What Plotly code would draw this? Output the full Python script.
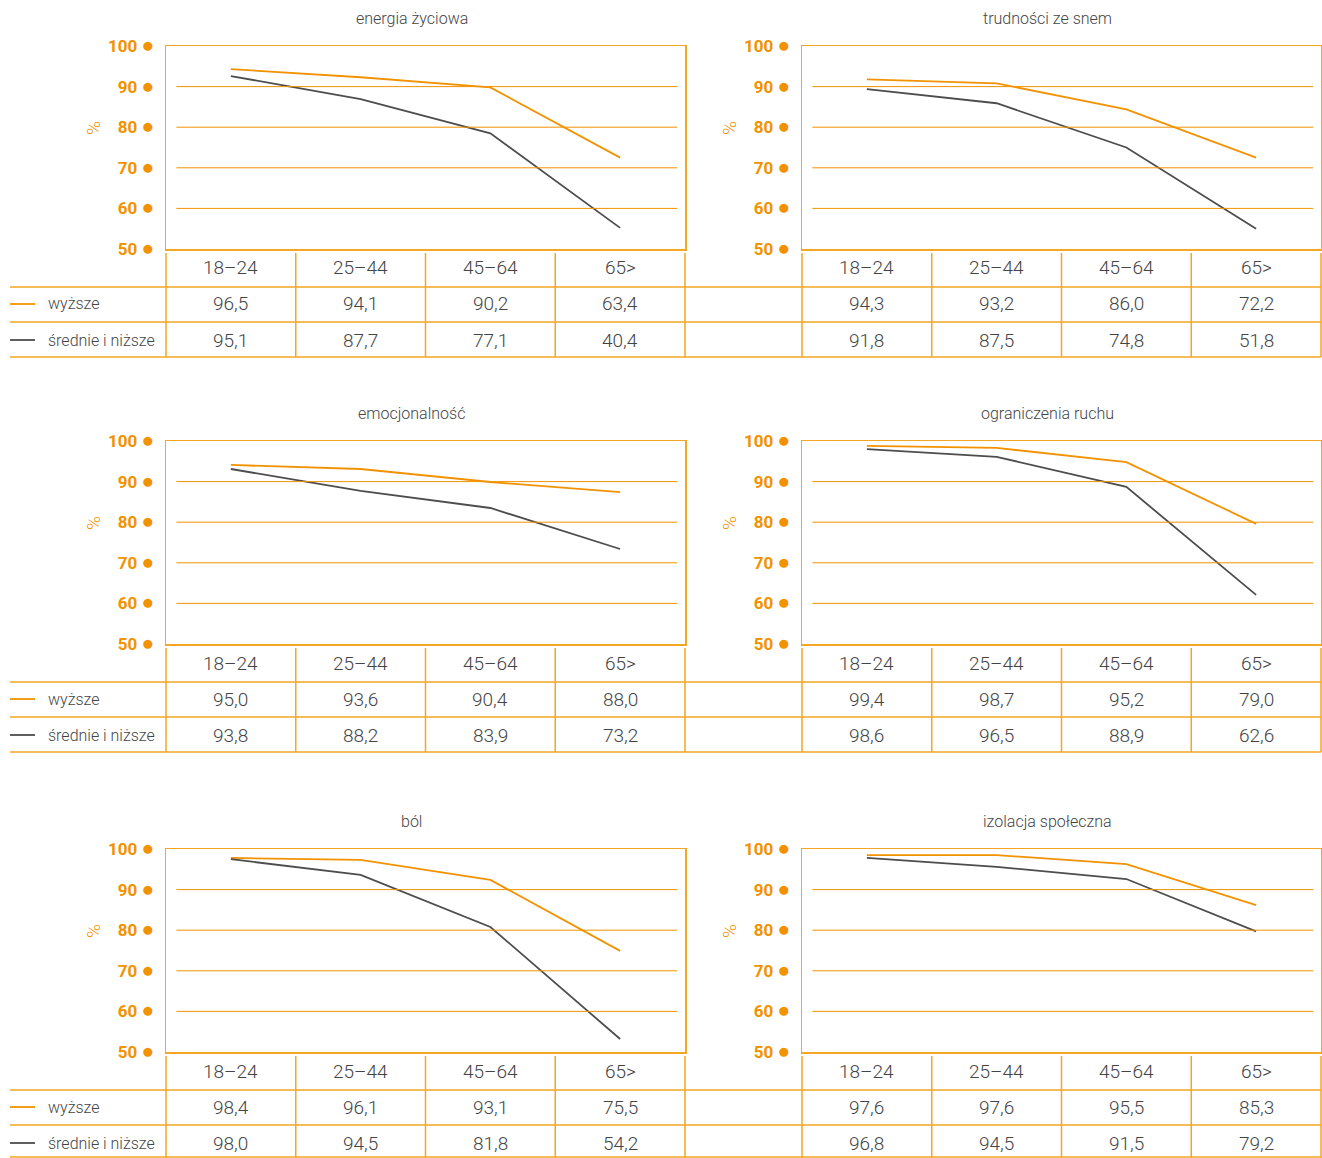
import plotly.graph_objects as go

# ---------------- data ----------------
categories = ["18–24", "25–44", "45–64", "65>"]
titles = ["energia życiowa", "trudności ze snem", "emocjonalność",
          "ograniczenia ruchu", "ból", "izolacja społeczna"]
series_names = ["wyższe", "średnie i niższe"]

# values of the plotted lines
line_wyzsze = [
    [94.3, 92.3, 89.8, 72.5],
    [91.8, 90.8, 84.4, 72.5],
    [94.1, 93.1, 89.9, 87.4],
    [98.8, 98.3, 94.8, 79.6],
    [97.8, 97.3, 92.4, 74.9],
    [98.5, 98.5, 96.3, 86.2],
]
line_srednie = [
    [92.6, 86.9, 78.5, 55.2],
    [89.4, 85.9, 75.0, 55.0],
    [93.1, 87.7, 83.5, 73.4],
    [98.0, 96.1, 88.7, 62.1],
    [97.5, 93.6, 80.8, 53.2],
    [97.8, 95.6, 92.6, 79.7],
]
# values printed in the tables
table_wyzsze = [
    [96.5, 94.1, 90.2, 63.4],
    [94.3, 93.2, 86.0, 72.2],
    [95.0, 93.6, 90.4, 88.0],
    [99.4, 98.7, 95.2, 79.0],
    [98.4, 96.1, 93.1, 75.5],
    [97.6, 97.6, 95.5, 85.3],
]
table_srednie = [
    [95.1, 87.7, 77.1, 40.4],
    [91.8, 87.5, 74.8, 51.8],
    [93.8, 88.2, 83.9, 73.2],
    [98.6, 96.5, 88.9, 62.6],
    [98.0, 94.5, 81.8, 54.2],
    [96.8, 94.5, 91.5, 79.2],
]
y_ticks = [50, 60, 70, 80, 90, 100]
grid_values = [60, 70, 80, 90]

# ---------------- styling ----------------
W, H = 1322, 1158
ORANGE = "#F39200"
BOX = "#F5A623"
DARK = "#4D4D4D"
TEXT = "#444444"
FONT = "Roboto, sans-serif"

box_x = [(166, 685), (802, 1321)]
block_off = [0, 395, 803]
plot_top, plot_bot = 46, 249
head_top = 253
row_lines = [287, 322, 357]
row_text = [268, 304, 340]
table_left = 10


def fx(px):
    return px / W


def fy(py):
    return 1 - py / H


fig = go.Figure()
shapes = []
annotations = []
xs = list(range(len(categories)))

for i in range(6):
    col, row = i % 2, i // 2
    off = block_off[row]
    x0, x1 = box_x[col]
    n = "" if i == 0 else str(i + 1)
    xa, ya = "xaxis" + n, "yaxis" + n

    fig.add_trace(go.Scatter(x=xs, y=line_wyzsze[i], mode="lines",
                             line=dict(color=ORANGE, width=1.8),
                             xaxis="x" + n, yaxis="y" + n, showlegend=False,
                             name=series_names[0]))
    fig.add_trace(go.Scatter(x=xs, y=line_srednie[i], mode="lines",
                             line=dict(color=DARK, width=1.8),
                             xaxis="x" + n, yaxis="y" + n, showlegend=False,
                             name=series_names[1]))

    fig.layout[xa] = dict(domain=[fx(x0), fx(x1)], range=[-0.5, 3.5],
                          showgrid=False, zeroline=False, showticklabels=False,
                          showline=True, mirror=True, linecolor=BOX,
                          linewidth=1.5, anchor="y" + n, fixedrange=True,
                          automargin=False)
    fig.layout[ya] = dict(domain=[fy(plot_bot + off), fy(plot_top + off)],
                          range=[50, 100], showgrid=False, zeroline=False,
                          showline=True, mirror=True, linecolor=BOX,
                          linewidth=1.5, anchor="x" + n,
                          tickvals=y_ticks,
                          ticktext=[f"{t} <span style='font-size:21px'>●</span>"
                                    for t in y_ticks],
                          tickfont=dict(family=FONT, size=17, color=ORANGE,
                                        weight="bold"),
                          ticks="", ticklabelstandoff=7, fixedrange=True,
                          automargin=False)

    for g in grid_values:
        shapes.append(dict(type="line", xref=f"x{n} domain", yref=f"y{n}",
                           x0=0.02, x1=0.985, y0=g, y1=g,
                           line=dict(color=ORANGE, width=1)))

    # title
    annotations.append(dict(text=titles[i], x=fx((x0 + x1) / 2 - 14),
                            y=fy(18 + off), xref="paper", yref="paper",
                            showarrow=False, xanchor="center", yanchor="middle",
                            font=dict(family=FONT, size=16, color=TEXT,
                                      weight=300)))
    # % label
    annotations.append(dict(text="%", x=fx(x0 - 73), y=fy(128 + off),
                            xref="paper", yref="paper", showarrow=False,
                            textangle=-90, xanchor="center", yanchor="middle",
                            font=dict(family=FONT, size=19, color=ORANGE,
                                      weight=300)))

    # table content
    cw = (x1 - x0) / 4
    for k, cat in enumerate(categories):
        cx = x0 + cw * (k + 0.5)
        annotations.append(dict(text=cat, x=fx(cx), y=fy(row_text[0] + off),
                                xref="paper", yref="paper", showarrow=False,
                                xanchor="center", yanchor="middle",
                                font=dict(family=FONT, size=19, color=TEXT,
                                          weight=300)))
        for r, vals in enumerate([table_wyzsze[i], table_srednie[i]]):
            annotations.append(dict(
                text=f"{vals[k]:.1f}".replace(".", ","), x=fx(cx),
                y=fy(row_text[r + 1] + off), xref="paper", yref="paper",
                showarrow=False, xanchor="center", yanchor="middle",
                font=dict(family=FONT, size=19, color=TEXT, weight=300)))
    # vertical table lines
    for k in range(5):
        vx = x0 + cw * k
        shapes.append(dict(type="line", xref="paper", yref="paper",
                           x0=fx(vx), x1=fx(vx), y0=fy(head_top + off),
                           y1=fy(row_lines[2] + off),
                           line=dict(color=BOX, width=1.5)))

# horizontal table lines and legends per block
for off in block_off:
    for ry in row_lines:
        shapes.append(dict(type="line", xref="paper", yref="paper",
                           x0=fx(table_left), x1=fx(1321),
                           y0=fy(min(ry + off, H - 1)),
                           y1=fy(min(ry + off, H - 1)),
                           line=dict(color=BOX, width=1.5)))
    for r, (name, colr) in enumerate(zip(series_names, [ORANGE, DARK])):
        yy = row_text[r + 1] + off
        shapes.append(dict(type="line", xref="paper", yref="paper",
                           x0=fx(10), x1=fx(35), y0=fy(yy), y1=fy(yy),
                           line=dict(color=colr, width=1.8)))
        annotations.append(dict(text=name, x=fx(46), y=fy(yy), xref="paper",
                                yref="paper", showarrow=False, xanchor="left",
                                yanchor="middle",
                                font=dict(family=FONT, size=16, color=TEXT,
                                          weight=300)))

fig.update_layout(width=W, height=H,
                  margin=dict(l=0, r=0, t=0, b=0, pad=0, autoexpand=False),
                  plot_bgcolor="white", paper_bgcolor="white",
                  shapes=shapes, annotations=annotations, showlegend=False)

fig.write_html(
    "out.html",
    config={"displayModeBar": False, "staticPlot": True},
    post_script=(
        "document.documentElement.style.margin='0';"
        "document.body.style.margin='0';"
        "document.body.style.overflow='hidden';"
        "var gd=document.getElementById('{plot_id}');"
        "gd.style.position='fixed';gd.style.top='0';gd.style.left='0';"
    ),
)
